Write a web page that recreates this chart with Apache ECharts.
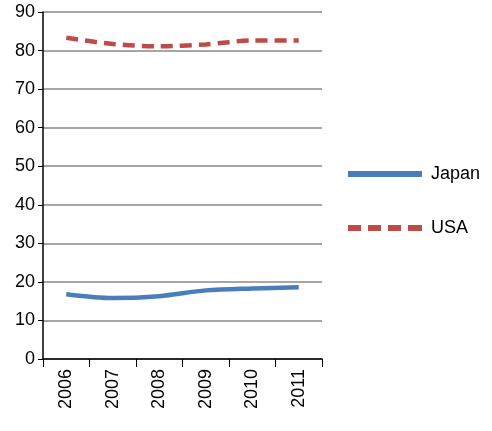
<!DOCTYPE html>
<html><head><meta charset="utf-8">
<script src="https://cdn.jsdelivr.net/npm/echarts@6/dist/echarts.min.js"></script>
<style>html,body{margin:0;padding:0;background:#fff}#c{width:492px;height:431px}</style>
</head><body><div id="c"></div>
<script>
const years = ['2006','2007','2008','2009','2010','2011'];
const japan = [16.8, 15.8, 16.3, 17.8, 18.3, 18.6];
const usa = [83.3, 81.7, 81.1, 81.6, 82.6, 82.6];
const yTicks = [0,10,20,30,40,50,60,70,80,90];
const chart = echarts.init(document.getElementById('c'));
const font = 'Liberation Sans, Arial, sans-serif';
chart.setOption({
  animation:false,
  grid:{left:43,right:170,top:12,bottom:72},
  legend:{orient:'vertical',left:343,top:160,itemWidth:74,itemHeight:6,itemGap:36,
    textStyle:{fontSize:18,fontFamily:font,color:'#000',padding:[0,0,0,4]},
    data:[{name:'Japan',icon:'rect'},
          {name:'USA',icon:'path://M0,0h13v6h-13z M20,0h13v6h-13z M40,0h13v6h-13z M60,0h14v6h-14z'}]},
  xAxis:{type:'category',data:years,boundaryGap:true,
    axisLine:{lineStyle:{color:'#000',width:1.5}},
    axisTick:{show:true,length:8,lineStyle:{color:'#000'}},
    axisLabel:{rotate:90,fontSize:18,color:'#000',fontFamily:font,margin:10}},
  yAxis:{type:'value',min:yTicks[0],max:yTicks[yTicks.length-1],interval:10,
    axisLine:{show:true,lineStyle:{color:'#000',width:1.5}},
    axisTick:{show:true,length:5,lineStyle:{color:'#000'}},
    splitLine:{lineStyle:{color:'#888',width:1.5}},
    axisLabel:{fontSize:18,color:'#000',fontFamily:font,margin:8}},
  series:[
    {name:'Japan',type:'line',data:japan,smooth:0.3,symbol:'none',
      itemStyle:{color:'#4a7ebb'},lineStyle:{color:'#4a7ebb',width:4.5}},
    {name:'USA',type:'line',data:usa,smooth:0.3,symbol:'none',
      itemStyle:{color:'#be4b48'},lineStyle:{color:'#be4b48',width:4.5,type:[12,7]}}
  ]
});
</script></body></html>
